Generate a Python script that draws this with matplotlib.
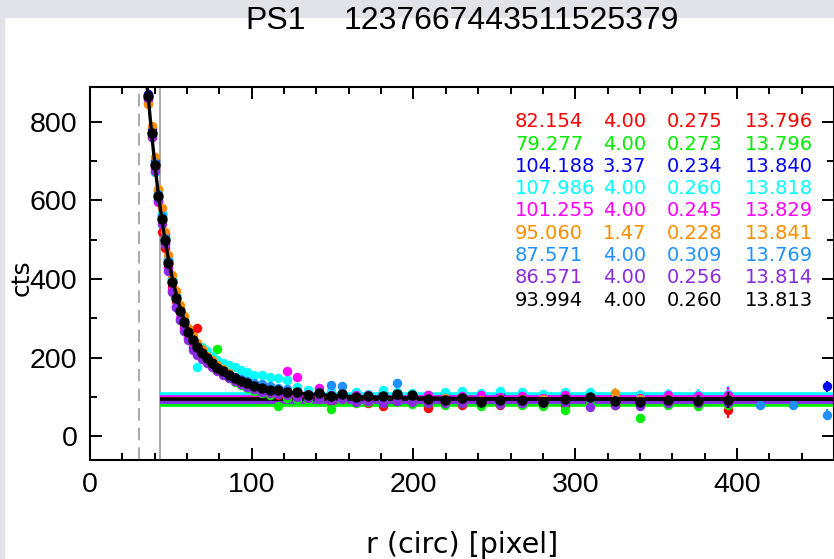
import matplotlib
matplotlib.use("Agg")
import matplotlib.pyplot as plt
from matplotlib.patches import Rectangle
from matplotlib.ticker import MultipleLocator

# radii of the profile points (shared by all bands)
r_pts = [36.0, 38.1, 40.2, 42.2, 44.3, 46.4, 48.5, 50.8, 53.2, 55.7, 58.2, 60.8, 63.5, 66.3,
         69.2, 72.2, 75.4, 78.7, 82.1, 85.7, 89.4, 93.3, 97.3, 101.5, 106.3, 111.2, 116.3,
         121.8, 127.7, 134.9, 141.7, 148.7, 155.9, 164.2, 172.0, 180.9, 189.6, 198.9, 209.1,
         219.4, 230.3, 242.0, 253.8, 266.8, 280.2, 293.6, 309.0, 324.5, 340.3, 357.4, 376.0, 394.5]

err_pts = [3, 3, 3, 3, 3, 3, 3, 3, 3, 3, 3, 3, 3, 3, 3, 3, 3, 3, 3, 3, 3, 3, 3, 3, 3, 4,
           4, 4, 4, 4, 5, 5, 5, 5, 6, 6, 6, 6, 7, 7, 7, 8, 8, 9, 9, 10, 10, 11, 12, 13, 14, 20]

red = [848, 760, 672, 598, 520, 478, 448, 380, 345, 325, 282, 255, 238, 275, 205, 192, 180,
       168, 160, 150, 140, 134, 126, 120, 114, 110, 106, 102, 100, 96, 98, 90, 92, 88, 84, 78,
       90, 86, 72, 84, 80, 84, 80, 82, 86, 80, 84, 80, 82, 85, 80, 67]
green = [855, 765, 700, 605, 560, 490, 425, 370, 328, 296, 268, 248, 232, 220, 208, 200, 192,
         222, 160, 148, 138, 130, 122, 116, 110, 106, 78, 98, 96, 92, 94, 69, 90, 86, 88, 84,
         90, 82, 86, 80, 84, 78, 82, 80, 78, 67, 82, 80, 46, 80, 78, 80]
blue = [870, 780, 700, 625, 565, 515, 450, 400, 360, 325, 296, 270, 224, 222, 210, 200, 188,
        172, 160, 152, 146, 138, 132, 126, 120, 116, 112, 110, 110, 106, 108, 104, 110, 108,
        102, 112, 104, 106, 104, 110, 100, 102, 104, 100, 102, 104, 100, 104, 104, 102, 106, 104]
cyan = [860, 765, 672, 618, 568, 505, 452, 402, 362, 322, 300, 255, 248, 176, 228, 216, 205,
        195, 186, 182, 176, 169, 163, 155, 155, 150, 148, 144, 125, 118, 112, 116, 110, 112,
        108, 118, 112, 110, 106, 112, 116, 110, 115, 112, 108, 113, 114, 110, 106, 108, 106, 108]
magenta = [858, 770, 680, 596, 548, 492, 430, 372, 330, 300, 276, 250, 236, 222, 205, 192, 178,
           168, 160, 150, 145, 138, 132, 126, 122, 120, 118, 165, 152, 108, 122, 104, 102, 106,
           104, 100, 104, 102, 106, 98, 102, 104, 100, 102, 98, 104, 100, 102, 98, 104, 102, 106]
orange = [845, 790, 710, 630, 580, 520, 460, 410, 370, 335, 305, 275, 255, 238, 222, 205, 195,
          182, 172, 160, 150, 142, 140, 130, 124, 110, 116, 112, 108, 104, 106, 100, 102, 98,
          96, 94, 100, 96, 94, 98, 96, 92, 96, 94, 96, 92, 98, 111, 94, 96, 92, 96]
dodger = [862, 768, 695, 615, 560, 505, 445, 392, 350, 315, 288, 262, 242, 226, 210, 196, 184,
          174, 165, 156, 150, 145, 140, 136, 132, 128, 124, 120, 110, 106, 112, 131, 128, 98,
          102, 96, 135, 100, 94, 90, 96, 88, 92, 86, 90, 88, 96, 92, 86, 90, 92, 88]
purple = [860, 760, 675, 600, 540, 488, 420, 368, 330, 296, 268, 244, 220, 208, 196, 186, 176,
          166, 156, 148, 140, 132, 126, 120, 114, 110, 108, 104, 100, 98, 96, 92, 94, 88, 90,
          86, 90, 88, 84, 86, 84, 88, 82, 86, 84, 88, 74, 80, 77, 86, 84, 86]
black = [866, 772, 690, 612, 553, 500, 440, 392, 352, 318, 290, 265, 245, 228, 213, 198, 186,
         175, 166, 155, 148, 140, 135, 128, 122, 119, 117, 113, 114, 105, 110, 103, 108, 101,
         103, 103, 108, 105, 95, 93, 97, 88, 93, 93, 88, 95, 101, 91, 88, 93, 91, 93]

# a few outer points that only some bands reach
r_dodger_out = [414.0, 434.7, 455.7]
dodger_out = [80, 80, 55]
r_blue_out = [455.7]
blue_out = [128]

# black model profile
r_fit = [35.3, 36.0, 37.0, 38.0, 39.0, 40.0, 41.0, 42.0, 43.0, 44.0, 45.0, 46.0, 47.5, 49.0,
         50.5, 52.0, 54.0, 56.0, 58.0, 60.5, 63.0, 66.0, 69.0, 72.5, 76.0, 80.0, 84.0, 88.5,
         93.0, 98.0, 104.0, 110.0, 117.0, 125.0, 134.0, 145.0, 158.0, 175.0, 195.0, 220.0,
         250.0, 290.0, 340.0, 400.0, 460.0]
v_fit = [888, 866, 818, 775, 734, 695, 659, 625, 593, 563, 535, 509, 473, 440, 410, 383, 351,
         323, 299, 273, 251, 229, 211, 194, 180, 167, 156, 146, 138, 131, 124, 119, 115, 111,
         108, 105, 102, 100, 98, 97, 96, 95.3, 94.9, 94.6, 94.4]

# fit table: sky, n, ?, mag
sky = [82.154, 79.277, 104.188, 107.986, 101.255, 95.060, 87.571, 86.571, 93.994]
sersic_n = ["4.00", "4.00", "3.37", "4.00", "4.00", "1.47", "4.00", "4.00", "4.00"]
ratio = ["0.275", "0.273", "0.234", "0.260", "0.245", "0.228", "0.309", "0.256", "0.260"]
mag = ["13.796", "13.796", "13.840", "13.818", "13.829", "13.841", "13.769", "13.814", "13.813"]

colors = ["#ff0000", "#00ee00", "#0000ff", "#00ffff", "#ff00ff", "#ff8c00",
          "#1e90ff", "#8a2be2", "#000000"]
series = [red, green, blue, cyan, magenta, orange, dodger, purple, black]

W, H = 834, 559
fig = plt.figure(figsize=(W / 100, H / 100), dpi=100)
fig.patches.append(Rectangle((0, 1 - 18 / H), 1, 18 / H, transform=fig.transFigure,
                             facecolor="#e2e3e8", edgecolor="none", zorder=0))
fig.patches.append(Rectangle((0, 0), 5 / W, 1, transform=fig.transFigure,
                             facecolor="#e2e3e8", edgecolor="none", zorder=0))

ax = fig.add_axes([90 / W, 1 - 460 / H, 1 - 90 / W, (460 - 87) / H])
ax.set_xlim(0, 460)
ax.set_ylim(-60, 888)

ax.axvline(30, color="#aaaaaa", lw=1.4, ls=(0, (6.5, 3.6)), zorder=1)
ax.axvline(43, color="#aaaaaa", lw=1.4, zorder=1)

for s, c in zip(sky, colors):
    ax.plot([43, 460], [s, s], color=c, lw=2.6, zorder=2, solid_capstyle="butt")

for vals, c in zip(series[:-1], colors[:-1]):
    ax.errorbar(r_pts, vals, yerr=err_pts, fmt="o", color=c, ms=6.8, mew=0,
                elinewidth=1.6, capsize=0, zorder=3)
ax.errorbar(r_dodger_out, dodger_out, yerr=[10, 10, 14], fmt="o", color=colors[6], ms=6.8,
            mew=0, elinewidth=1.6, capsize=0, zorder=3)
ax.errorbar(r_blue_out, blue_out, yerr=[14], fmt="o", color=colors[2], ms=6.8, mew=0,
            elinewidth=1.6, capsize=0, zorder=3)

ax.plot(r_fit, v_fit, color="black", lw=2.4, zorder=4)
ax.errorbar(r_pts, black, yerr=err_pts, fmt="o", color="black", ms=7.5, mew=0,
            elinewidth=1.6, capsize=0, zorder=5)

ax.xaxis.set_major_locator(MultipleLocator(100))
ax.xaxis.set_minor_locator(MultipleLocator(20))
ax.yaxis.set_major_locator(MultipleLocator(200))
ax.yaxis.set_minor_locator(MultipleLocator(100))
ax.tick_params(which="both", direction="in", top=True, right=True, width=1.4,
               labelsize=20.5, pad=9)
ax.tick_params(which="major", length=8.5)
ax.tick_params(which="minor", length=5)
for lab in ax.get_xticklabels() + ax.get_yticklabels():
    lab.set_family("Liberation Sans")
for sp in ax.spines.values():
    sp.set_linewidth(1.5)

fig.text(462 / W, 1 - 545 / H, "r (circ) [pixel]", fontsize=20.5, ha="center", va="center",
         family="DejaVu Sans")
fig.text(22 / W, 1 - 278 / H, "cts", fontsize=18, ha="center", va="center",
         rotation=90, family="DejaVu Sans")

fig.text(245 / W, 1 - 21 / H, "PS1", fontsize=23, ha="left", va="center",
         family="Liberation Sans")
fig.text(344 / W, 1 - 21 / H, "1237667443511525379", fontsize=23, ha="left",
         va="center", family="Liberation Sans")

col_x = [515, 603, 667, 745]
for i, c in enumerate(colors):
    y = 1 - (121.7 + 22.3 * i) / H
    cells = [f"{sky[i]:.3f}", sersic_n[i], ratio[i], mag[i]]
    for x, t in zip(col_x, cells):
        fig.text(x / W, y, t, color=c, fontsize=14, ha="left", va="center",
                 family="DejaVu Sans")

fig.savefig("out.png", dpi=100)
